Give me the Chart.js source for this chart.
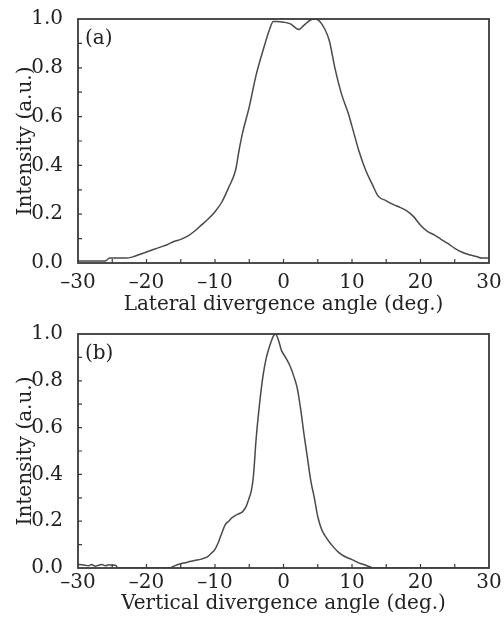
<!DOCTYPE html>
<html><head><meta charset="utf-8">
<script src="https://cdn.jsdelivr.net/npm/chart.js@4"></script>
<style>
html,body{margin:0;padding:0;background:#fff;width:504px;height:621px;overflow:hidden}
#c1{position:absolute;left:0;top:0}
#c2{position:absolute;left:0;top:310px}
</style></head><body>
<canvas id="c1" width="504" height="320"></canvas>
<canvas id="c2" width="504" height="311"></canvas>
<script>
// ---- data ----
const anglesA = [-30,-28,-26,-25.4,-23,-22,-21,-20,-19,-18,-17,-16,-15,-14,-13,-12,-11,-10,-9,-8,-7,-6.5,-6,-5,-4,-3,-2,-1.5,-1,0,1,1.5,2.2,3,4,4.6,5.3,6,6.7,7.5,8.5,9.5,10,11,12,13,13.8,15,16,17,18,19,20,21,22,23,24,25,26,27,28,29,30];
const intensityA = [0.008,0.008,0.008,0.02,0.02,0.025,0.035,0.045,0.055,0.065,0.075,0.088,0.097,0.11,0.13,0.155,0.18,0.21,0.25,0.31,0.38,0.46,0.53,0.64,0.77,0.87,0.96,0.99,0.99,0.987,0.98,0.97,0.957,0.975,0.997,1.0,0.99,0.96,0.91,0.8,0.69,0.61,0.56,0.46,0.38,0.32,0.275,0.255,0.24,0.228,0.214,0.19,0.155,0.13,0.115,0.097,0.08,0.06,0.045,0.035,0.028,0.02,0.02];
const anglesB = [-30,-29.5,-29,-28.5,-28,-27.5,-27,-26.5,-26,-25.5,-25,-24.5,-24.2,-16.6,-16,-15,-14,-13,-12,-11,-10.5,-10,-9.5,-9,-8.5,-8,-7.5,-7,-6.5,-6,-5.5,-5,-4.7,-4.4,-4,-3.5,-3,-2.5,-2,-1.5,-1.2,-0.8,-0.3,0.3,1,1.5,2,2.5,3,3.5,4,4.5,5,5.5,6,7,8,9,10,11,12,12.7,13,30];
const intensityB = [0.015,0.014,0.012,0.01,0.015,0.008,0.012,0.015,0.01,0.014,0.012,0.012,0.0,0.0,0.008,0.018,0.025,0.032,0.038,0.05,0.064,0.08,0.11,0.15,0.185,0.2,0.215,0.225,0.232,0.24,0.26,0.3,0.33,0.39,0.55,0.7,0.82,0.9,0.95,0.99,1.0,0.98,0.93,0.9,0.86,0.82,0.77,0.68,0.57,0.47,0.37,0.3,0.22,0.17,0.14,0.1,0.068,0.048,0.036,0.022,0.012,0.004,0,0];
const xTickValues = [-30,-20,-10,0,10,20,30];
const xMinorValues = [-25,-20,-15,-10,-5,0,5,10,15,20,25];
const yTickValues = [0,0.2,0.4,0.6,0.8,1.0];
const yMinorValues = [0.1,0.2,0.3,0.4,0.5,0.6,0.7,0.8,0.9];
const panelLabels = ['(a)','(b)'];
const xTitles = ['Lateral divergence angle (deg.)','Vertical divergence angle (deg.)'];
const yTitle = 'Intensity (a.u.)';

const FONT = '"DejaVu Serif", serif';
const TXT = '#222';

const framePlugin = {
  id: 'frame',
  afterDraw(chart, args, opts) {
    const {ctx, chartArea: a, scales: {x, y}} = chart;
    ctx.save();
    ctx.strokeStyle = '#3a3a3a';
    ctx.lineWidth = 1.2;
    ctx.beginPath();
    xMinorValues.forEach(v => { const px = x.getPixelForValue(v); ctx.moveTo(px, a.bottom); ctx.lineTo(px, a.bottom - 4); });
    yMinorValues.forEach(v => { const py = y.getPixelForValue(v); ctx.moveTo(a.left, py); ctx.lineTo(a.left + 4, py); });
    ctx.stroke();
    ctx.lineWidth = 1.8;
    ctx.strokeRect(a.left, a.top, a.right - a.left, a.bottom - a.top);
    ctx.font = '20px ' + FONT;
    ctx.fillStyle = TXT;
    ctx.textBaseline = 'middle';
    ctx.textAlign = 'left';
    ctx.fillText(opts.label, a.left + 7, a.top + 20);
    ctx.restore();
  }
};

function makeChart(id, xs, ys, label, xTitle, opt) {
  const pts = xs.map((v, i) => ({x: v, y: ys[i]}));
  return new Chart(document.getElementById(id), {
    type: 'line',
    data: { datasets: [{ data: pts, borderColor: '#4a4a4a', borderWidth: 1.5, pointRadius: 0, fill: false, cubicInterpolationMode: 'monotone' }] },
    options: {
      responsive: false, animation: false, devicePixelRatio: 1,
      layout: { padding: { left: 0, right: 15, top: opt.top, bottom: 0 } },
      plugins: { legend: { display: false }, tooltip: { enabled: false }, frame: { label } },
      scales: {
        x: {
          type: 'linear', min: -30, max: 30,
          afterBuildTicks: s => { s.ticks = xTickValues.map(v => ({value: v})); },
          afterFit: s => { s.height = opt.xh; },
          grid: { display: false }, border: { display: false },
          ticks: { autoSkip: false, maxRotation: 0, padding: opt.tp, color: TXT, font: { family: FONT, size: 20 },
                   callback: v => String(v).replace('-', '\u2013') },
          title: { display: true, text: xTitle, color: TXT, font: { family: FONT, size: 20 }, padding: { top: 0, bottom: opt.titlePad } }
        },
        y: {
          min: 0, max: 1,
          afterBuildTicks: s => { s.ticks = yTickValues.map(v => ({value: v})); },
          afterFit: s => { s.width = 78; },
          grid: { display: false }, border: { display: false },
          ticks: { autoSkip: false, padding: 7, color: TXT, font: { family: FONT, size: 20 }, callback: v => Number(v).toFixed(1) },
          title: { display: true, text: yTitle, color: TXT, font: { family: FONT, size: 20 }, padding: { top: 14, bottom: 0 } }
        }
      }
    },
    plugins: [framePlugin]
  });
}

makeChart('c1', anglesA, intensityA, panelLabels[0], xTitles[0], { top: 14, xh: 57, tp: 0, titlePad: 3 });
makeChart('c2', anglesB, intensityB, panelLabels[1], xTitles[1], { top: 24, xh: 53, tp: -5, titlePad: 5 });
</script>
</body></html>
